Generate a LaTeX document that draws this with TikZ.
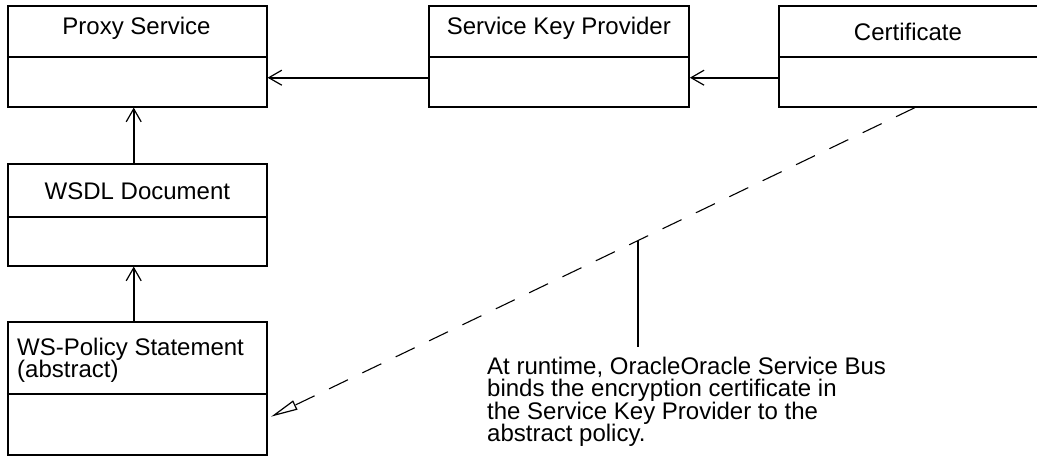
\documentclass[tikz,border=0pt]{standalone}
\usepackage{fontspec}
\setmainfont{Liberation Sans}
\usetikzlibrary{arrows.meta}
\begin{document}
\begin{tikzpicture}[x=1pt,y=-1pt,
  box/.style={draw,line width=1.8pt,inner sep=0pt,minimum width=259pt},
  divider/.style={line width=1.8pt},
  ttl/.style={inner sep=0pt,anchor=base,font=\fontsize{24}{22.5}\selectfont},
  conn/.style={line width=1.8pt,-{Straight Barb[length=13pt,width=15pt,line width=1.2pt]}},
  realize/.style={line width=1.1pt,dash pattern=on 21pt off 16pt,-{Triangle[open,length=27pt,width=10pt,line width=1.2pt]}},
  notetext/.style={inner sep=0pt,anchor=base west,align=left,font=\fontsize{24}{22.5}\selectfont}]
\clip (0,0) rectangle (1037,461);
\fill[white] (0,0) rectangle (1037,461);
% boxes
\node[box,minimum height=101pt] (proxy) at (137.2,56.2) {};
\node[box,minimum height=101.7pt] (wsdl) at (137.2,214.85) {};
\node[box,minimum height=133.3pt] (wsp) at (137.2,388.35) {};
\node[box,minimum width=259.7pt,minimum height=101pt] (skp) at (559.15,56.2) {};
\node[box,minimum width=262pt,minimum height=101pt] (cert) at (910,56.2) {};
% dividers
\draw[divider] (proxy.west |- 0,56.7) -- (proxy.east |- 0,56.7);
\draw[divider] (skp.west |- 0,56.7) -- (skp.east |- 0,56.7);
\draw[divider] (cert.west |- 0,56.7) -- (cert.east |- 0,56.7);
\draw[divider] (wsdl.west |- 0,216.7) -- (wsdl.east |- 0,216.7);
\draw[divider] (wsp.west |- 0,394) -- (wsp.east |- 0,394);
% titles
\node[ttl] (proxyt) at (136.5,34.3) {Proxy Service};
\node[ttl] (skpt) at (558.8,34.3) {Service Key Provider};
\node[ttl] (certt) at (908,40.7) {Certificate};
\node[ttl] (wsdlt) at (137.4,199) {WSDL Document};
\node[ttl,anchor=base west,align=left] (wspt) at (17,377.5) {WS-Policy Statement\\(abstract)};
% connectors
\draw[conn] (skp.west |- 0,77.7) -- (proxy.east |- 0,77.7);
\draw[conn] (cert.west |- 0,77.7) -- (skp.east |- 0,77.7);
\draw[conn] (wsdl.north -| 133.7,0) -- (proxy.south -| 133.7,0);
\draw[conn] (wsp.north -| 133.7,0) -- (wsdl.south -| 133.7,0);
\coordinate (dend) at (271,416.7);
\draw[realize] (cert.south -| 915,0) -- coordinate[pos=0.43] (np) (dend);
% note
\node[notetext] (note) at (487,441.5) {At runtime, OracleOracle Service Bus\\binds the encryption certificate in\\the Service Key Provider to the\\abstract policy.};
\draw[line width=1.8pt] (np) -- (np |- 0,347);
\end{tikzpicture}
\end{document}
